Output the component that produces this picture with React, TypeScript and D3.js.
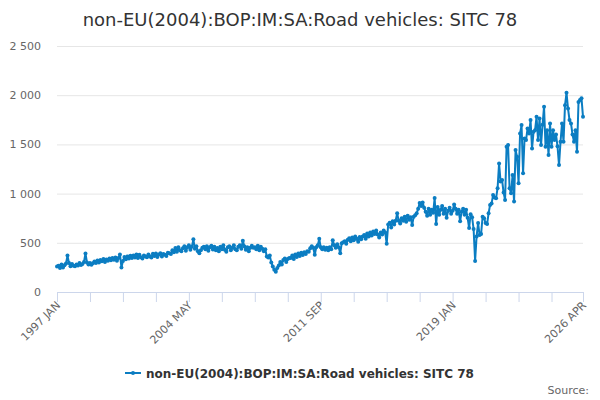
import React, { useRef, useEffect } from 'react';
import * as d3 from 'd3';

// 월 이름 (카테고리 라벨용)
const MONTHS = ['JAN', 'FEB', 'MAR', 'APR', 'MAY', 'JUN', 'JUL', 'AUG', 'SEP', 'OCT', 'NOV', 'DEC'];
const START_YEAR = 1997;

// 연도별 월간 수입액 (£m), 그림에서 읽은 값
const Y1997 = [258, 266, 245, 280, 250, 272, 290, 370, 295, 262, 285, 268];
const Y1998 = [262, 280, 270, 295, 275, 285, 305, 392, 300, 280, 295, 278];
const Y1999 = [292, 310, 295, 320, 300, 325, 312, 335, 305, 330, 318, 340];
const Y2000 = [322, 345, 328, 350, 318, 345, 382, 250, 315, 355, 332, 360];
const Y2001 = [340, 368, 345, 372, 350, 380, 345, 378, 352, 340, 372, 360];
const Y2002 = [352, 382, 360, 350, 388, 365, 392, 355, 380, 395, 362, 385];
const Y2003 = [378, 365, 400, 395, 385, 425, 405, 448, 410, 455, 425, 415];
const Y2004 = [445, 465, 420, 455, 475, 430, 460, 535, 440, 465, 415, 395];
const Y2005 = [425, 450, 460, 435, 465, 420, 455, 470, 432, 460, 425, 448];
const Y2006 = [415, 460, 435, 475, 430, 410, 455, 465, 425, 450, 475, 435];
const Y2007 = [425, 460, 475, 440, 520, 465, 430, 455, 415, 450, 470, 450];
const Y2008 = [455, 435, 470, 425, 460, 440, 415, 435, 360, 350, 370, 300];
const Y2009 = [260, 225, 205, 245, 270, 305, 280, 325, 340, 305, 335, 345];
const Y2010 = [345, 370, 335, 380, 355, 390, 365, 400, 375, 405, 385, 415];
const Y2011 = [410, 445, 465, 450, 378, 455, 475, 540, 455, 435, 455, 430];
const Y2012 = [450, 425, 455, 435, 525, 475, 450, 485, 455, 395, 495, 505];
const Y2013 = [515, 490, 530, 545, 515, 555, 525, 565, 540, 510, 560, 535];
const Y2014 = [565, 580, 540, 595, 565, 605, 575, 615, 590, 625, 585, 555];
const Y2015 = [605, 585, 625, 605, 490, 685, 705, 655, 720, 685, 725, 800];
const Y2016 = [725, 695, 750, 725, 765, 715, 775, 735, 760, 680, 765, 780];
const Y2017 = [800, 845, 905, 875, 910, 855, 815, 775, 845, 785, 835, 805];
const Y2018 = [955, 690, 865, 785, 835, 875, 795, 845, 755, 825, 855, 795];
const Y2019 = [825, 890, 845, 795, 835, 720, 815, 845, 785, 835, 755, 650];
const Y2020 = [790, 760, 640, 315, 565, 700, 580, 590, 765, 750, 700, 690];
const Y2021 = [800, 885, 900, 985, 960, 953, 1055, 1307, 1122, 1139, 1010, 936];
const Y2022 = [1476, 1493, 1054, 1003, 1189, 919, 1443, 1375, 1105, 1611, 1696, 1206];
const Y2023 = [1560, 1544, 1662, 1611, 1747, 1459, 1628, 1645, 1780, 1544, 1764, 1493];
const Y2024 = [1700, 1882, 1476, 1645, 1392, 1713, 1476, 1645, 1544, 1600, 1480, 1290];
const Y2025 = [1527, 1713, 1527, 1899, 2024, 1865, 1747, 1713, 1600, 1527, 1645, 1426];
const Y2026 = [1930, 1950, 1970, 1780];

const VALUES: number[] = [
  ...Y1997, ...Y1998, ...Y1999, ...Y2000, ...Y2001, ...Y2002, ...Y2003, ...Y2004,
  ...Y2005, ...Y2006, ...Y2007, ...Y2008, ...Y2009, ...Y2010, ...Y2011, ...Y2012,
  ...Y2013, ...Y2014, ...Y2015, ...Y2016, ...Y2017, ...Y2018, ...Y2019, ...Y2020,
  ...Y2021, ...Y2022, ...Y2023, ...Y2024, ...Y2025, ...Y2026,
];

const CATEGORIES = VALUES.map((_, i) => `${START_YEAR + Math.floor(i / 12)} ${MONTHS[i % 12]}`);

const Y_TICKS = [0, 500, 1000, 1500, 2000, 2500];
const TICK_STEP = 22; // 눈금 간격 (개월)
const LABEL_STEP = 4; // 라벨은 4 눈금마다

const TITLE = 'non-EU(2004):BOP:IM:SA:Road vehicles: SITC 78';
const COLOR = '#0b7dc2';
const FONT = '"DejaVu Sans", sans-serif';

const App: React.FC = () => {
  const svgRef = useRef<SVGSVGElement | null>(null);

  useEffect(() => {
    const width = 600;
    const height = 400;
    const margin = { top: 46, right: 17, bottom: 108, left: 57 };
    const w = width - margin.left - margin.right;
    const h = height - margin.top - margin.bottom;

    const svg = d3.select(svgRef.current);
    svg.selectAll('*').remove();

    const x = d3.scaleLinear().domain([0, VALUES.length - 1]).range([0, w]);
    const y = d3.scaleLinear().domain([0, 2500]).range([h, 0]);

    // 제목
    svg.append('text')
      .attr('x', width / 2)
      .attr('y', 26)
      .attr('text-anchor', 'middle')
      .style('font-family', FONT)
      .style('font-size', '18px')
      .style('fill', '#333')
      .text(TITLE);

    const g = svg.append('g').attr('transform', `translate(${margin.left},${margin.top})`);

    // 가로 격자선
    g.append('g')
      .selectAll('line')
      .data(Y_TICKS.filter((t) => t > 0))
      .enter()
      .append('line')
      .attr('x1', 0)
      .attr('x2', w)
      .attr('y1', (d: number) => y(d) + 0.5)
      .attr('y2', (d: number) => y(d) + 0.5)
      .attr('stroke', '#e6e6e6');

    // Y 라벨
    g.append('g')
      .selectAll('text')
      .data(Y_TICKS)
      .enter()
      .append('text')
      .attr('x', -16)
      .attr('y', (d: number) => y(d) + 4)
      .attr('text-anchor', 'end')
      .style('font-family', FONT)
      .style('font-size', '11px')
      .style('fill', '#666')
      .text((d: number) => d3.format(',')(d).replace(/,/g, ' '));

    // X 축
    const tickIdx = d3.range(0, VALUES.length, TICK_STEP);
    if (tickIdx[tickIdx.length - 1] !== VALUES.length - 1) tickIdx.push(VALUES.length - 1);
    const labelIdx = tickIdx.filter((d, k) => k % LABEL_STEP === 0 || d === VALUES.length - 1);

    const xAxis = g.append('g').attr('transform', `translate(0,${h})`);
    xAxis.append('line')
      .attr('x1', 0).attr('x2', w)
      .attr('y1', 0.5).attr('y2', 0.5)
      .attr('stroke', '#ccd6eb');
    xAxis.selectAll('line.tick')
      .data(tickIdx)
      .enter()
      .append('line')
      .attr('class', 'tick')
      .attr('x1', (d: number) => x(d) + 0.5)
      .attr('x2', (d: number) => x(d) + 0.5)
      .attr('y1', 0)
      .attr('y2', 10)
      .attr('stroke', '#ccd6eb');
    xAxis.selectAll('text')
      .data(labelIdx)
      .enter()
      .append('text')
      .attr('transform', (d: number) => `translate(${x(d) + 4},${14}) rotate(-45)`)
      .attr('text-anchor', 'end')
      .style('font-family', FONT)
      .style('font-size', '11px')
      .style('fill', '#666')
      .text((d: number) => CATEGORIES[d]);

    // 선
    const line = d3.line<number>()
      .x((_, i) => x(i))
      .y((d) => y(d));
    g.append('path')
      .datum(VALUES)
      .attr('d', line)
      .attr('fill', 'none')
      .attr('stroke', COLOR)
      .attr('stroke-width', 2)
      .attr('stroke-linejoin', 'round');

    // 마커
    g.append('g')
      .selectAll('circle')
      .data(VALUES)
      .enter()
      .append('circle')
      .attr('cx', (_: number, i: number) => x(i))
      .attr('cy', (d: number) => y(d))
      .attr('r', 2)
      .attr('fill', COLOR);

    // 범례
    const legend = svg.append('g').attr('transform', 'translate(125,373)');
    legend.append('line')
      .attr('x1', 0).attr('x2', 16)
      .attr('y1', 0).attr('y2', 0)
      .attr('stroke', COLOR)
      .attr('stroke-width', 2);
    legend.append('circle').attr('cx', 8).attr('cy', 0).attr('r', 2).attr('fill', COLOR);
    legend.append('text')
      .attr('x', 21)
      .attr('y', 4.5)
      .style('font-family', FONT)
      .style('font-size', '12px')
      .style('font-weight', 'bold')
      .style('fill', '#333')
      .text(TITLE);

    // 출처
    svg.append('text')
      .attr('x', 589)
      .attr('y', 394)
      .attr('text-anchor', 'end')
      .style('font-family', FONT)
      .style('font-size', '11px')
      .style('fill', '#666')
      .text('Source:');
  }, []);

  return (
    <div style={{ position: 'absolute', left: 0, top: 0 }}>
      <svg ref={svgRef} width={600} height={400} style={{ background: '#fff', display: 'block' }} />
    </div>
  );
};

export default App;
